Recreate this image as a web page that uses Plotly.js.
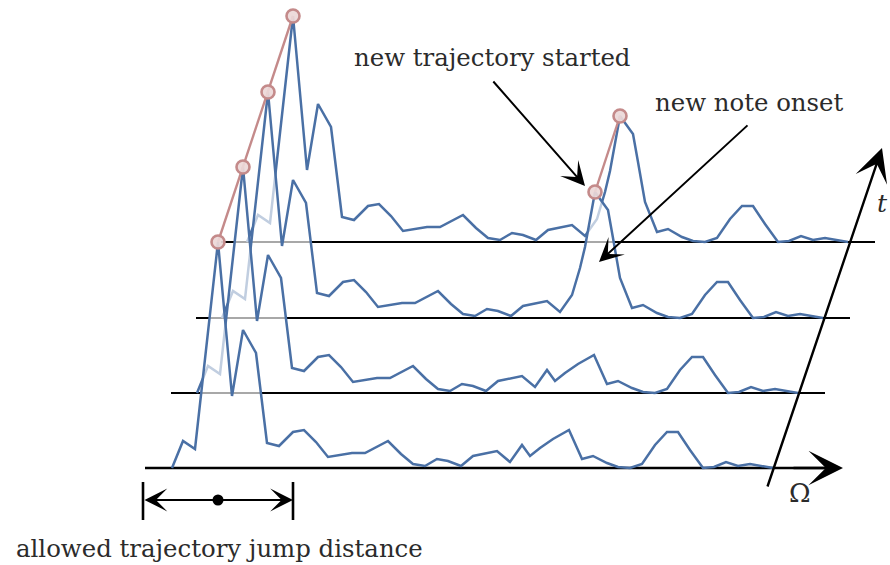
<!DOCTYPE html>
<html>
<head>
<meta charset="utf-8">
<script src="https://cdn.plot.ly/plotly-3.0.1.min.js"></script>
<style>
  html, body { margin: 0; padding: 0; background: #fff; }
  #chart { width: 890px; height: 565px; }
</style>
</head>
<body>
<div id="chart"></div>
<script>
// Spectral frames: bin positions and magnitudes (frames 1-2 steady, frames 3-4 with the onset peak)
const binsSteady = [0, 11, 23, 46, 60, 71, 84, 95, 107, 121, 132, 144, 156, 180, 193, 205, 216, 229, 241, 253,
                    265, 276, 289, 301, 314, 325, 338, 350, 358, 368, 381, 397, 410, 421, 435, 446, 458, 470,
                    483, 495, 506, 518, 531, 542, 554, 566, 578, 590, 601];
const frame1 = [0, 27, 19, 226, 72, 138, 115, 25, 22, 36, 38, 26, 11, 15, 15, 21, 27, 14, 4, 2,
                9, 7, 2, 12, 15, 17, 6, 23, 12, 20, 29, 38, 9, 12, 5, 1, 0, 4,
                23, 36, 36, 18, 0, 1, 6, 2, 4, 2, 0];
const frame2 = [0, 27, 19, 226, 72, 138, 115, 25, 22, 36, 38, 26, 11, 15, 15, 21, 27, 14, 4, 2,
                9, 7, 2, 12, 15, 17, 6, 23, 12, 20, 29, 38, 9, 12, 5, 1, 0, 4,
                23, 36, 36, 18, 0, 1, 6, 2, 4, 2, 0];
const binsOnset = [0, 11, 23, 46, 60, 71, 84, 95, 107, 121, 132, 144, 156, 180, 193, 205, 216, 229, 241, 253,
                   265, 276, 289, 301, 314, 325, 338, 350, 358, 363, 373, 386, 391, 398, 410, 421, 435, 446,
                   458, 470, 483, 495, 506, 518, 531, 542, 554, 566, 578, 590, 601];
const frame3 = [0, 27, 19, 226, 72, 138, 115, 25, 22, 36, 38, 26, 11, 15, 15, 21, 27, 14, 4, 2,
                9, 7, 2, 12, 15, 17, 6, 23, 50, 71, 126, 108, 80, 40, 10, 13, 5, 1,
                0, 4, 23, 36, 36, 18, 0, 1, 6, 2, 4, 2, 0];
const frame4 = [0, 27, 19, 226, 72, 138, 115, 25, 22, 36, 38, 26, 11, 15, 15, 21, 27, 14, 4, 2,
                9, 7, 2, 12, 15, 17, 6, 23, 50, 71, 126, 108, 80, 40, 10, 13, 5, 1,
                0, 4, 23, 36, 36, 18, 0, 1, 6, 2, 4, 2, 0];

// Peak bins joined by the partial tracker (frame index, bin index)
const trackOldFrames = [0, 1, 2, 3];
const trackOldBins   = [3, 3, 3, 3];
const trackNewFrames = [2, 3];
const trackNewBins   = [30, 30];
const jumpRadius = 75;   // allowed trajectory jump distance, in bins

// Waterfall layout: each later frame is drawn further back and up
const frameBins = [binsSteady, binsSteady, binsOnset, binsOnset];
const frameMags = [frame1, frame2, frame3, frame4];
const stepX = [0, 25, 50, 75];
const stepY = [0, 75, 150, 226];
const axisLead = -26, axisTail = 628;

const BLUE = '#4a70a5';
const ROSE = '#c48a8a';
const INK = '#2b2b2b';
const FONT = 'DejaVu Serif, Liberation Serif, serif';

const traces = [];
// Draw back to front; a translucent white veil under each frame fades what lies behind it
for (let k = frameMags.length - 1; k >= 0; k--) {
  const xs = frameBins[k].map(b => b + stepX[k]);
  const ys = frameMags[k].map(m => m + stepY[k]);
  traces.push({
    type: 'scatter', mode: 'lines', hoverinfo: 'skip',
    x: xs.concat([xs[xs.length - 1], xs[0]]),
    y: ys.concat([stepY[k], stepY[k]]),
    fill: 'toself', fillcolor: 'rgba(255,255,255,0.66)',
    line: { width: 0, color: 'rgba(0,0,0,0)' }
  });
  const x0 = axisLead + stepX[k] - (k === 0 ? 1 : 0);
  const x1 = k === 0 ? 655 : axisTail + stepX[k];
  traces.push({
    type: 'scatter', mode: 'lines', hoverinfo: 'skip',
    x: [x0, x1], y: [stepY[k], stepY[k]],
    line: { color: '#000', width: k === 0 ? 2.6 : 1.8 }
  });
  traces.push({
    type: 'scatter', mode: 'lines', hoverinfo: 'skip',
    x: xs, y: ys,
    line: { color: BLUE, width: 2.5 }
  });
}

function trackPoints(frames, bins) {
  return {
    x: frames.map((f, i) => frameBins[f][bins[i]] + stepX[f]),
    y: frames.map((f, i) => frameMags[f][bins[i]] + stepY[f])
  };
}
[trackPoints(trackOldFrames, trackOldBins), trackPoints(trackNewFrames, trackNewBins)].forEach(p => {
  traces.push({
    type: 'scatter', mode: 'lines', hoverinfo: 'skip',
    x: p.x, y: p.y, line: { color: ROSE, width: 2.4 }
  });
  traces.push({
    type: 'scatter', mode: 'markers', hoverinfo: 'skip',
    x: p.x, y: p.y,
    marker: { size: 13, color: 'rgba(236,216,216,0.92)', line: { color: ROSE, width: 2.6 } }
  });
});

// Jump-distance marker centred on the first tracked peak
const peakX = frameBins[0][trackOldBins[0]];
const jumpY = -32;
traces.push({
  type: 'scatter', mode: 'markers', hoverinfo: 'skip',
  x: [peakX], y: [jumpY], marker: { size: 11, color: '#000' }
});

const shapes = [peakX - jumpRadius, peakX + jumpRadius].map(x => ({
  type: 'line', xref: 'x', yref: 'y', x0: x, x1: x, y0: -14, y1: -52,
  line: { color: '#000', width: 2.6 }
}));

function arrow(x, y, ax, ay, size, width, side) {
  return {
    x: x, y: y, ax: ax, ay: ay, xref: 'x', yref: 'y', axref: 'x', ayref: 'y',
    text: '', showarrow: true, arrowhead: 3, startarrowhead: 3,
    arrowsize: size, startarrowsize: size, arrowwidth: width,
    arrowcolor: '#000', arrowside: side || 'end', standoff: 0, startstandoff: 0
  };
}
function label(text, x, y, size, extra) {
  return Object.assign({
    x: x, y: y, xref: 'x', yref: 'y', text: text, showarrow: false,
    xanchor: 'center', yanchor: 'middle',
    font: { family: FONT, size: size, color: INK }
  }, extra || {});
}

const annotations = [
  arrow(671, 0, 620, 0, 2.4, 2.4),                        // Ω axis head
  arrow(710, 320, 595, -20, 2.3, 2.4),                    // t axis
  arrow(413, 282, 320, 388, 2.0, 2),                      // to the new trajectory
  arrow(427, 206, 577, 344, 2.0, 2),                      // to the note onset
  arrow(peakX + jumpRadius, jumpY, peakX - jumpRadius, jumpY, 1.9, 2, 'end+start'),
  label('new trajectory started', 320, 411, 24.4),
  label('new note onset', 577, 366, 24.4),
  label('allowed trajectory jump distance', 47, -80, 24.4),
  label('Ω', 628, -25, 26),
  label('<i>t</i>', 710, 265, 25)
];

const layout = {
  width: 890, height: 565,
  margin: { l: 0, r: 0, t: 0, b: 0 },
  paper_bgcolor: '#fff', plot_bgcolor: '#fff',
  showlegend: false,
  xaxis: { range: [-172, 718], visible: false, fixedrange: true },
  yaxis: { range: [-97, 468], visible: false, fixedrange: true },
  shapes: shapes,
  annotations: annotations
};

Plotly.newPlot('chart', traces, layout, { staticPlot: true, displayModeBar: false });
</script>
</body>
</html>
